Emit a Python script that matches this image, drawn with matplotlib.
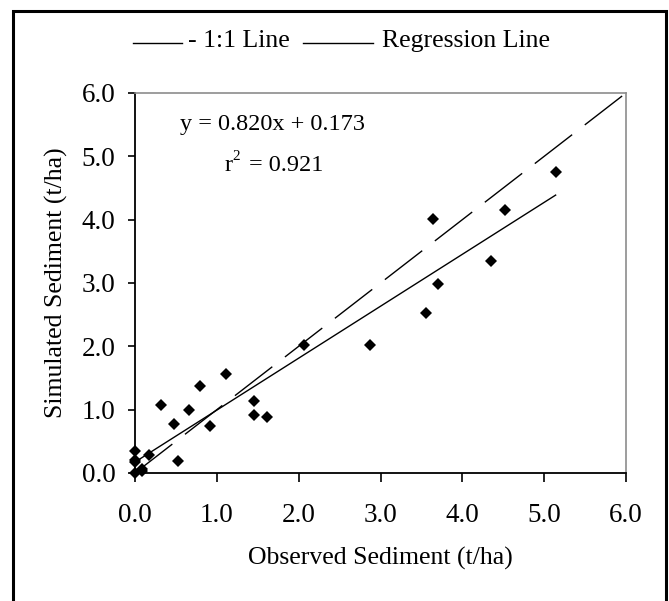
import numpy as np
import matplotlib
matplotlib.use("Agg")
import matplotlib.pyplot as plt
from matplotlib.lines import Line2D
from matplotlib.patches import Rectangle

# ------------------------------------------------------------
# Data
# ------------------------------------------------------------
observed  = [0.00, 0.00, 0.00, 0.00, 0.09, 0.09, 0.17, 0.32, 0.48, 0.53,
             0.66, 0.79, 0.92, 1.11, 1.45, 1.45, 1.61, 2.07, 2.87, 3.56,
             3.64, 3.70, 4.35, 4.52, 5.14]
simulated = [0.00, 0.18, 0.20, 0.35, 0.07, 0.03, 0.29, 1.08, 0.77, 0.19,
             1.00, 1.37, 0.74, 1.56, 1.14, 0.91, 0.89, 2.02, 2.02, 2.53,
             4.01, 2.98, 3.35, 4.15, 4.75]

slope, intercept, r2 = 0.820, 0.173, 0.921
one_to_one = [0.0, 6.0]
ticks      = [0.0, 1.0, 2.0, 3.0, 4.0, 5.0, 6.0]

plt.rcParams["font.family"] = ["Liberation Serif", "DejaVu Serif"]

W, H = 669, 601
fig = plt.figure(figsize=(W / 100, H / 100), dpi=100)
ax = fig.add_axes([135 / W, 1 - 473 / H, (626 - 135) / W, (473 - 93) / H])

# 1:1 line (long dashes)
ax.plot(one_to_one, one_to_one, color="black", lw=1.0,
        dashes=(34, 11.5), solid_capstyle="butt")

# regression line over observed range
x_reg = np.array([min(observed), max(observed)])
ax.plot(x_reg, slope * x_reg + intercept, color="black", lw=1.0)

ax.plot(observed, simulated, "D", color="black", ms=5.8, mew=0,
        clip_on=False, zorder=5)

ax.set_xlim(0, 6)
ax.set_ylim(0, 6)
ax.set_xticks(ticks)
ax.set_yticks(ticks)
ax.set_xticklabels([f"{t:.1f}" for t in ticks])
ax.set_yticklabels([f"{t:.1f}" for t in ticks])
ax.tick_params(axis="x", direction="out", length=6.5, width=1.2,
               labelsize=19.5, pad=15)
ax.tick_params(axis="y", direction="out", length=5, width=1.2,
               labelsize=19.5, pad=9)

for s in ["left", "bottom"]:
    ax.spines[s].set_color("black")
    ax.spines[s].set_linewidth(1.3)
for s in ["top", "right"]:
    ax.spines[s].set_color("#8c8c8c")
    ax.spines[s].set_linewidth(1.2)

ax.set_xlabel("Observed Sediment (t/ha)", fontsize=18.5, labelpad=14)
ax.set_ylabel("Simulated Sediment (t/ha)", fontsize=18.5, labelpad=10)

ax.text(0.55, 5.5, f"y = {slope:.3f}x + {intercept:.3f}", fontsize=17.5,
        va="center", ha="left")
# r² written in pieces so the small raised 2 sits like the original
ax.text(1.1, 4.85, "r", fontsize=17.5, va="center", ha="left")
ax.annotate("2", (1.1, 4.85), xytext=(5.5, 7), textcoords="offset points",
            fontsize=11, va="center", ha="left")
ax.annotate(f"= {r2:.3f}", (1.1, 4.85), xytext=(17, 0),
            textcoords="offset points", fontsize=17.5, va="center", ha="left")

# legend drawn at the top of the figure
ly = 1 - 43 / H
fig.add_artist(Line2D([133 / W, 182 / W], [ly, ly], color="black", lw=1.0))
fig.text(188 / W, 1 - 41 / H, "- 1:1 Line", fontsize=18.5, va="center", ha="left")
fig.add_artist(Line2D([303 / W, 373 / W], [ly, ly], color="black", lw=1.0))
fig.text(382 / W, 1 - 41 / H, "Regression Line", fontsize=18.5,
         va="center", ha="left")

# outer chart border
fig.add_artist(Rectangle((13 / W, -0.05), (666 - 13) / W, 1.05 - 11 / H,
                         transform=fig.transFigure, fill=False,
                         edgecolor="black", lw=2.2))

fig.savefig("out.png", dpi=100)
plt.close(fig)
